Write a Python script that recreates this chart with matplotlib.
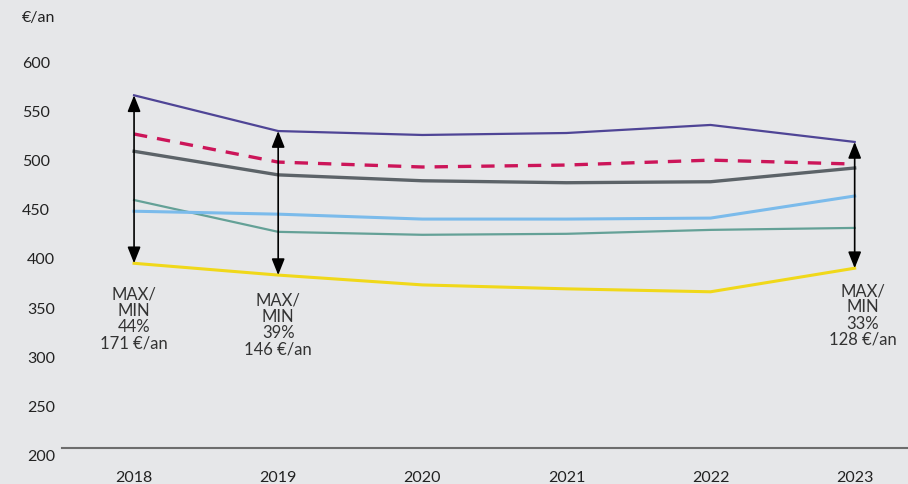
import matplotlib.pyplot as plt
from matplotlib import transforms
import numpy as np

plt.rcParams['font.family'] = ['Lato', 'DejaVu Sans']

annees = [2018, 2019, 2020, 2021, 2022, 2023]

violet = [559, 522.6, 518.6, 520.6, 528.8, 511.5]
rouge = [519.6, 491, 486, 488, 493, 489]
gris = [502, 478, 472, 470, 471, 485]
bleu = [441, 438, 433, 433, 434, 456.5]
vert = [452.4, 420, 417, 418, 422, 424]
jaune = [388, 376, 366, 362, 359, 383]

annees_fleche = [2018, 2019, 2023]
textes_fleche = ["MAX/\nMIN\n44%\n171 €/an",
                 "MAX/\nMIN\n39%\n146 €/an",
                 "MAX/\nMIN\n33%\n128 €/an"]

fond = '#e6e7e9'
fig = plt.figure(figsize=(9.08, 4.85), dpi=100, facecolor=fond)
ax = fig.add_axes([62 / 908, 36 / 485, 846 / 908, 393 / 485])
ax.set_facecolor(fond)

ax.plot(annees, jaune, color='#f0d81a', lw=2.2)
ax.plot(annees, vert, color='#64a197', lw=1.6)
ax.plot(annees, bleu, color='#7bbbeb', lw=2.2)
ax.plot(annees, gris, color='#5c6368', lw=2.4)
ax.plot(annees, rouge, color='#cc1559', lw=2.4, dashes=(4, 3))
ax.plot(annees, violet, color='#4f4596', lw=1.6)

series = np.array([violet, rouge, gris, bleu, vert, jaune])
decalages = {2018: (0, -16), 2019: (0, -12), 2023: (6, -10)}
for an, txt in zip(annees_fleche, textes_fleche):
    i = annees.index(an)
    haut = series[:, i].max()
    bas = series[:, i].min()
    ax.annotate('', xy=(an, haut), xytext=(an, bas),
                arrowprops=dict(arrowstyle='<|-|>,head_length=0.55,head_width=0.22', color='black', lw=1.2,
                                mutation_scale=18, shrinkA=0, shrinkB=0))
    ax.annotate(txt, xy=(an, bas), xytext=decalages[an], textcoords='offset points',
                ha='center', va='top', fontsize=12, color='#333333', linespacing=1.02)

ax.set_xlim(2017.5, 2023.37)
ax.set_ylim(200, 600)

for s in ['top', 'right', 'left']:
    ax.spines[s].set_visible(False)
ax.spines['bottom'].set_color('#6d6d6d')
ax.spines['bottom'].set_linewidth(1.5)

ax.set_xticks(annees)
ax.set_xticklabels([str(a) for a in annees], fontsize=11.5, color='#222222')
ax.tick_params(axis='x', length=0, pad=16)

# etiquettes de l'axe y, un peu decalees vers le bas comme l'original
ax.set_yticks([])
trans = transforms.blended_transform_factory(fig.transFigure, ax.transData)
decal = transforms.ScaledTranslation(0, -8 / 100, fig.dpi_scale_trans)
for v in range(200, 601, 50):
    if v >= 450:
        ax.text(22 / 908, v, str(v), transform=trans + decal,
                ha='left', va='center', fontsize=11.5, color='#222222')
    else:
        ax.text(55 / 908, v, str(v), transform=trans + decal,
                ha='right', va='center', fontsize=11.5, color='#222222')

fig.text(22 / 908, 1 - 18 / 485, '€/an', ha='left', va='center', fontsize=11.5, color='#222222')

plt.savefig('out.png', dpi=100, facecolor=fond)
